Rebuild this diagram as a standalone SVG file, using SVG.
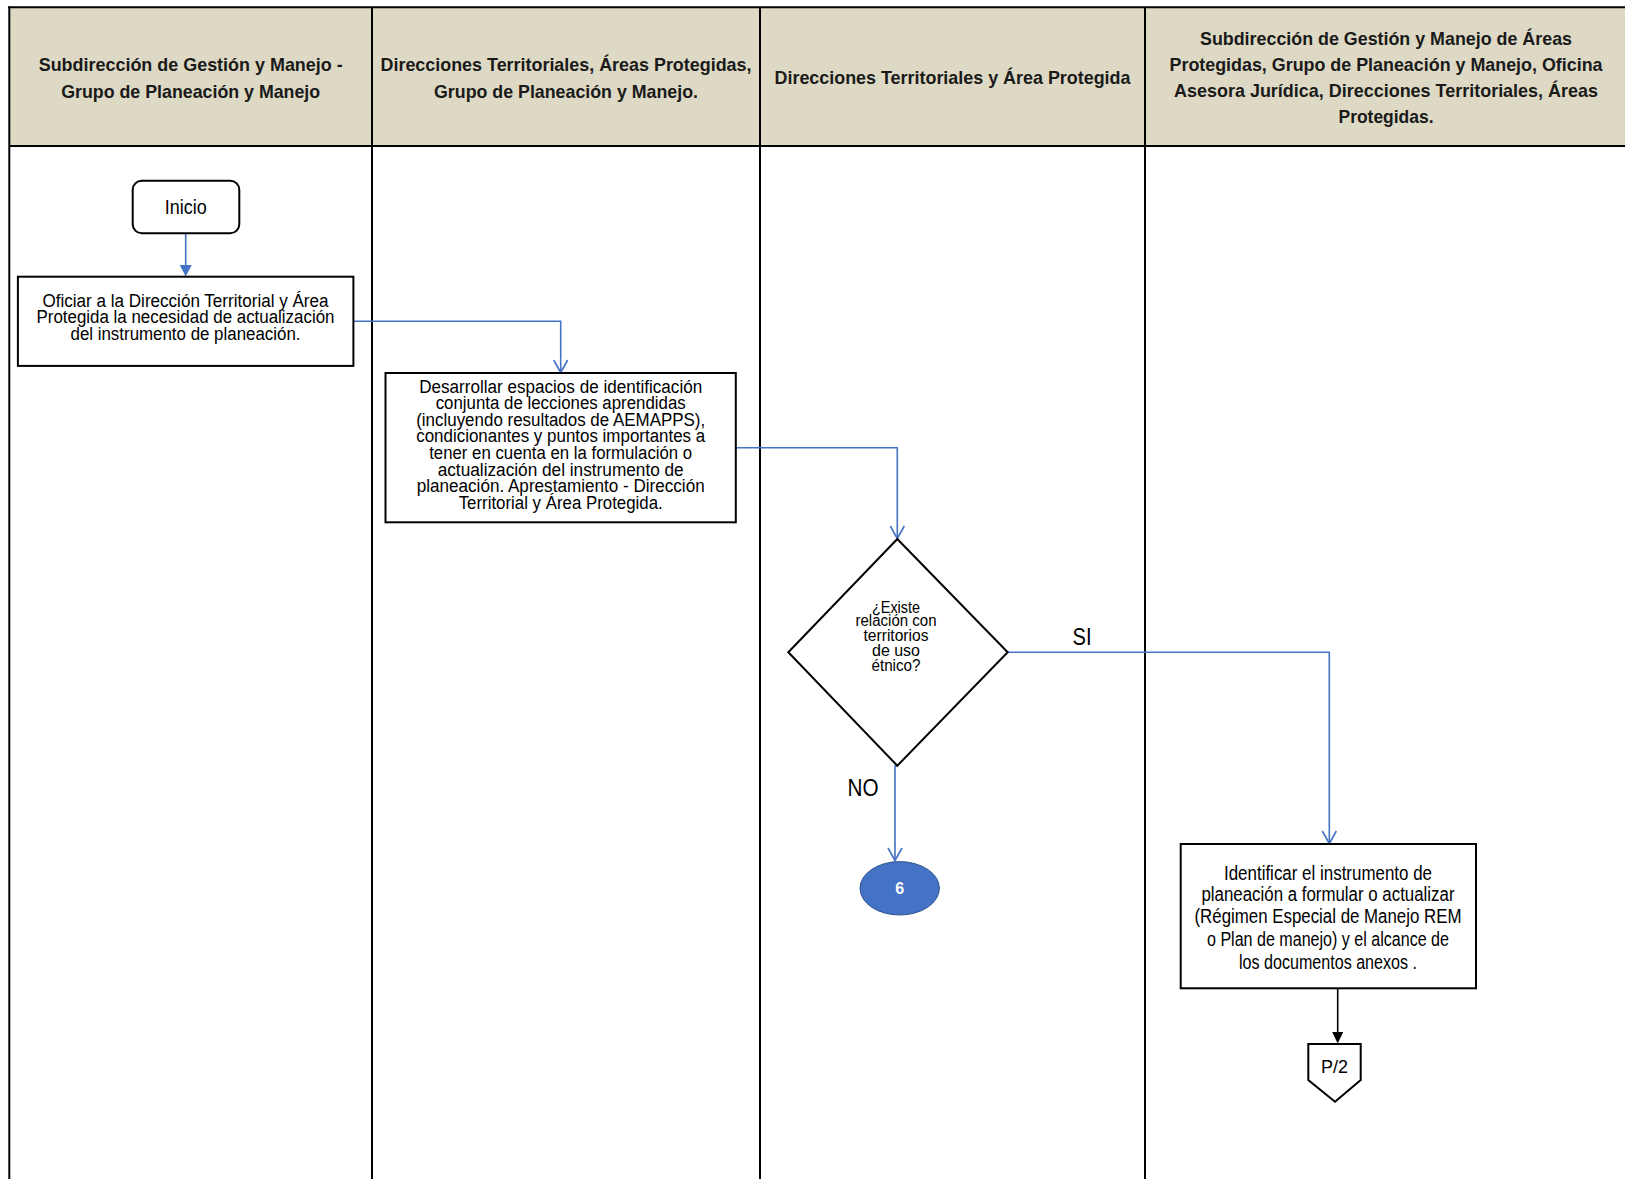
<svg xmlns="http://www.w3.org/2000/svg" width="1625" height="1179" viewBox="0 0 1625 1179">
<style>
.hdr{font-family:"Liberation Sans Narrow","Liberation Sans",Arial,sans-serif;font-weight:bold;font-size:19px;fill:#1a1a1a;text-anchor:middle}
.t{font-family:"Liberation Sans Narrow","Liberation Sans",Arial,sans-serif;fill:#000;text-anchor:middle}
.box{fill:#fff;stroke:#000;stroke-width:2}
.lane{stroke:#000;stroke-width:2;fill:none}
.con{fill:none;stroke:#4472C4;stroke-width:1.6}
</style>
<defs>
<marker id="open" markerWidth="16" markerHeight="16" refX="14" refY="8" viewBox="0 0 16 16" orient="auto" markerUnits="userSpaceOnUse">
<path d="M1.5,1 L14,8 L1.5,15" fill="none" stroke="#4472C4" stroke-width="1.6"/>
</marker>
</defs>
<rect width="1625" height="1179" fill="#fff"/>
<g id="lanes">
<rect x="9.3" y="7.3" width="1625" height="139" fill="#DDD9C4"/>
<line class="lane" x1="8.3" y1="7.3" x2="1625" y2="7.3"/>
<line class="lane" x1="9.3" y1="146" x2="1625" y2="146"/>
<line class="lane" x1="9.3" y1="6.3" x2="9.3" y2="1179"/>
<line class="lane" x1="372" y1="7.3" x2="372" y2="1179"/>
<line class="lane" x1="760" y1="7.3" x2="760" y2="1179"/>
<line class="lane" x1="1145" y1="7.3" x2="1145" y2="1179"/>
<text class="hdr" x="190.7" y="70.8" textLength="304" lengthAdjust="spacingAndGlyphs">Subdirección de Gestión y Manejo -</text>
<text class="hdr" x="190.7" y="97.5" textLength="259" lengthAdjust="spacingAndGlyphs">Grupo de Planeación y Manejo</text>
<text class="hdr" x="566" y="70.8" textLength="371" lengthAdjust="spacingAndGlyphs">Direcciones Territoriales, Áreas Protegidas,</text>
<text class="hdr" x="566" y="97.5" textLength="264" lengthAdjust="spacingAndGlyphs">Grupo de Planeación y Manejo.</text>
<text class="hdr" x="952.5" y="84.2" textLength="356" lengthAdjust="spacingAndGlyphs">Direcciones Territoriales y Área Protegida</text>
<text class="hdr" x="1386" y="44.8" textLength="372" lengthAdjust="spacingAndGlyphs">Subdirección de Gestión y Manejo de Áreas</text>
<text class="hdr" x="1386" y="70.8" textLength="433" lengthAdjust="spacingAndGlyphs">Protegidas, Grupo de Planeación y Manejo, Oficina</text>
<text class="hdr" x="1386" y="96.7" textLength="424" lengthAdjust="spacingAndGlyphs">Asesora Jurídica, Direcciones Territoriales, Áreas</text>
<text class="hdr" x="1386" y="122.5" textLength="95" lengthAdjust="spacingAndGlyphs">Protegidas.</text>
</g>
<g id="connectors">
<line x1="185.7" y1="233.5" x2="185.7" y2="266" stroke="#4472C4" stroke-width="1.6"/>
<path d="M179.7,265 L191.7,265 L185.7,276.5 Z" fill="#4472C4"/>
<path class="con" d="M353.4,321.3 H560.7 V372.5" marker-end="url(#open)"/>
<path class="con" d="M735.8,447.7 H897.3 V538.5" marker-end="url(#open)"/>
<path class="con" d="M897.3,766 L895,766 V860.5" marker-end="url(#open)"/>
<path class="con" d="M1007.7,652.3 H1329.3 V843.5" marker-end="url(#open)"/>
<line x1="1337.7" y1="989" x2="1337.7" y2="1034" stroke="#000" stroke-width="1.6"/>
<path d="M1332.2,1032 L1343.2,1032 L1337.7,1043.5 Z" fill="#000"/>
<text class="t" x="1082" y="645" font-size="23" textLength="19" lengthAdjust="spacingAndGlyphs">SI</text>
<text class="t" x="863" y="796" font-size="23" textLength="31" lengthAdjust="spacingAndGlyphs">NO</text>
</g>
<g id="inicio">
<rect x="132.7" y="180.7" width="106.6" height="52.6" rx="9" class="box"/>
<text class="t" x="185.7" y="214" font-size="21" textLength="42" lengthAdjust="spacingAndGlyphs">Inicio</text>
</g>
<g id="oficiar">
<rect x="17.9" y="276.7" width="335.5" height="89.2" class="box"/>
<text class="t" font-size="18" x="185.5" y="306.6" textLength="286" lengthAdjust="spacingAndGlyphs">Oficiar a la Dirección Territorial y Área</text>
<text class="t" font-size="18" x="185.5" y="323" textLength="298" lengthAdjust="spacingAndGlyphs">Protegida la necesidad de actualización</text>
<text class="t" font-size="18" x="185.5" y="339.7" textLength="230" lengthAdjust="spacingAndGlyphs">del instrumento de planeación.</text>
</g>
<g id="desarrollar">
<rect x="385.5" y="373" width="350.3" height="149.3" class="box"/>
<text class="t" font-size="18" x="560.7" y="392.6" textLength="283" lengthAdjust="spacingAndGlyphs">Desarrollar espacios de identificación</text>
<text class="t" font-size="18" x="560.7" y="409.2" textLength="250" lengthAdjust="spacingAndGlyphs">conjunta de lecciones aprendidas</text>
<text class="t" font-size="18" x="560.7" y="425.7" textLength="289" lengthAdjust="spacingAndGlyphs">(incluyendo resultados de AEMAPPS),</text>
<text class="t" font-size="18" x="560.7" y="442.3" textLength="289" lengthAdjust="spacingAndGlyphs">condicionantes y puntos importantes a</text>
<text class="t" font-size="18" x="560.7" y="458.9" textLength="263" lengthAdjust="spacingAndGlyphs">tener en cuenta en la formulación o</text>
<text class="t" font-size="18" x="560.7" y="475.5" textLength="246" lengthAdjust="spacingAndGlyphs">actualización del instrumento de</text>
<text class="t" font-size="18" x="560.7" y="492" textLength="288" lengthAdjust="spacingAndGlyphs">planeación. Aprestamiento - Dirección</text>
<text class="t" font-size="18" x="560.7" y="508.7" textLength="204" lengthAdjust="spacingAndGlyphs">Territorial y Área Protegida.</text>
</g>
<g id="decision">
<polygon points="897.3,539 1007.7,652.3 897.3,765.7 788.3,652.3" class="box"/>
<text class="t" font-size="16" x="896" y="612.7" textLength="48" lengthAdjust="spacingAndGlyphs">¿Existe</text>
<text class="t" font-size="16" x="896" y="626.2" textLength="81" lengthAdjust="spacingAndGlyphs">relación con</text>
<text class="t" font-size="16" x="896" y="641.2" textLength="65" lengthAdjust="spacingAndGlyphs">territorios</text>
<text class="t" font-size="16" x="896" y="656" textLength="48" lengthAdjust="spacingAndGlyphs">de uso</text>
<text class="t" font-size="16" x="896" y="670.6" textLength="49" lengthAdjust="spacingAndGlyphs">étnico?</text>
</g>
<g id="conector6">
<ellipse cx="899.7" cy="888.3" rx="39.7" ry="26.7" fill="#4472C4" stroke="#2F528F" stroke-width="1"/>
<text class="t" font-size="16" font-weight="bold" x="899.7" y="894" style="fill:#fff">6</text>
</g>
<g id="identificar">
<rect x="1180.7" y="844" width="295.3" height="144.3" class="box"/>
<text class="t" font-size="19.5" x="1328" y="879.5" textLength="208" lengthAdjust="spacingAndGlyphs">Identificar el instrumento de</text>
<text class="t" font-size="19.5" x="1328" y="901.3" textLength="253" lengthAdjust="spacingAndGlyphs">planeación a formular o actualizar</text>
<text class="t" font-size="19.5" x="1328" y="923.1" textLength="267" lengthAdjust="spacingAndGlyphs">(Régimen Especial de Manejo REM</text>
<text class="t" font-size="19.5" x="1328" y="945.9" textLength="242" lengthAdjust="spacingAndGlyphs">o Plan de manejo) y el alcance de</text>
<text class="t" font-size="19.5" x="1328" y="968.7" textLength="178" lengthAdjust="spacingAndGlyphs">los documentos anexos .</text>
</g>
<g id="p2">
<polygon points="1308.3,1044 1360.7,1044 1360.7,1080 1335,1101.7 1308.3,1080" class="box" stroke-width="1.5"/>
<text class="t" font-size="19" x="1334.5" y="1072.5" textLength="27" lengthAdjust="spacingAndGlyphs">P/2</text>
</g>
</svg>
